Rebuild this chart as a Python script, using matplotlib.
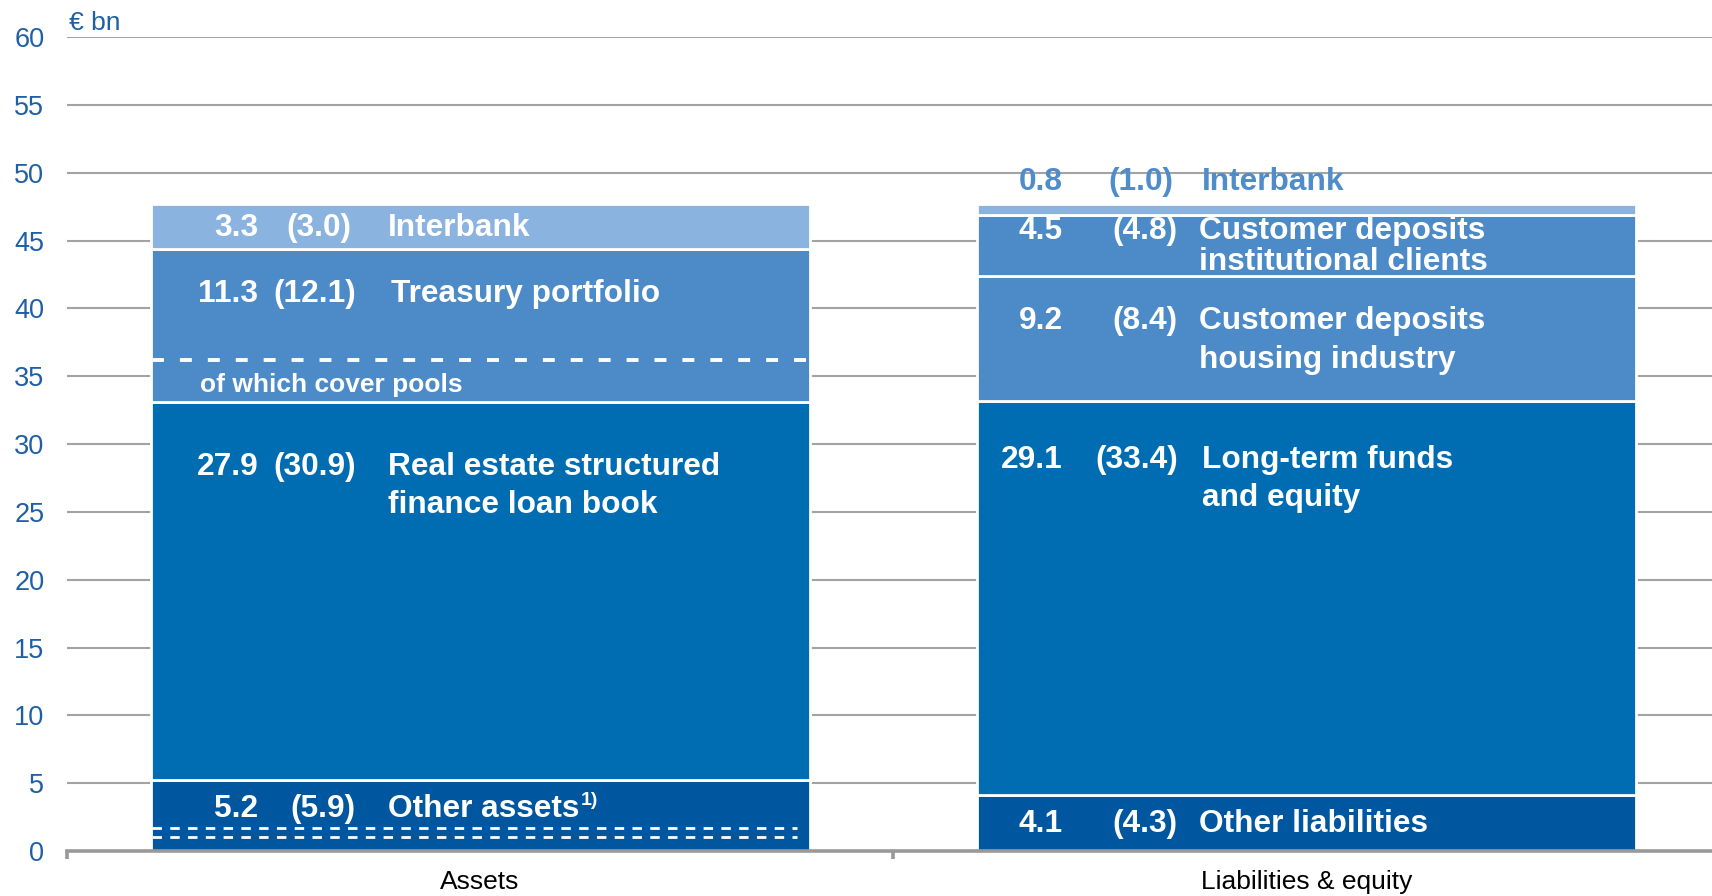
import matplotlib
matplotlib.use("Agg")
import matplotlib.pyplot as plt
import numpy as np

plt.rcParams['font.family'] = ['Liberation Sans', 'DejaVu Sans']
plt.rcParams['lines.scale_dashes'] = False

# ---------------- data ----------------
categories = ["Assets", "Liabilities & equity"]

asset_names = ["Other assets", "Real estate structured\nfinance loan book", "Treasury portfolio", "Interbank"]
asset_values = [5.2, 27.9, 11.3, 3.3]
asset_prev = [5.9, 30.9, 12.1, 3.0]

liab_names = ["Other liabilities", "Long-term funds\nand equity", "Customer deposits\nhousing industry",
              "Customer deposits\ninstitutional clients", "Interbank"]
liab_values = [4.1, 29.1, 9.2, 4.5, 0.8]
liab_prev = [4.3, 33.4, 8.4, 4.8, 1.0]

cover_pool_level = 36.2          # dashed line inside treasury portfolio
other_assets_marks = [1.72, 1.06]  # dashed lines inside other assets

yticks = list(range(0, 61, 5))
unit_label = "€ bn"

# ---------------- style ----------------
C_LIGHT = "#8AB3DF"
C_MID = "#4C8AC8"
C_MAIN = "#006DB3"
C_DARK = "#0057A0"
asset_colors = [C_DARK, C_MAIN, C_MID, C_LIGHT]
liab_colors = [C_DARK, C_MAIN, C_MID, C_MID, C_LIGHT]
TICK_BLUE = "#1E5FA6"
GRID = "#A3A3A3"
AXIS = "#999999"

fig = plt.figure(figsize=(17.12, 8.96), dpi=100)
ax = fig.add_axes([0.0389, 0.0502, 0.9611, 0.9084])

x = np.arange(len(categories))
width = 0.797

def stack(xpos, values, colors):
    bottom = 0.0
    for v, c in zip(values, colors):
        ax.bar(xpos, v, width=width, bottom=bottom, color=c, edgecolor="white",
               linewidth=2.0, zorder=2)
        bottom += v

stack(x[0], asset_values, asset_colors)
stack(x[1], liab_values, liab_colors)

# dashed lines
l0 = x[0] - width / 2
r0 = x[0] + width / 2
ax.hlines(cover_pool_level, l0 + 0.002, r0 - 0.002, colors="white", linewidth=2.8,
          linestyles=(0, (8.6, 11.5)), zorder=3)
for yv in other_assets_marks:
    ax.hlines(yv, l0 + 0.002, r0 - 0.015, colors="white", linewidth=2.0,
              linestyles=(0, (6.8, 6.0)), zorder=3)

# axes styling
ax.set_xlim(-0.5, 1.49)
ax.set_ylim(0, 60)
ax.set_yticks(yticks)
ax.set_yticklabels([str(t) for t in yticks])
ax.tick_params(axis="y", length=0, pad=16, labelsize=19.5, labelcolor=TICK_BLUE)
ax.grid(axis="y", color=GRID, linewidth=1.5, zorder=0)
ax.set_axisbelow(True)
for g in ax.get_ygridlines()[:1]:
    g.set_visible(False)
for s in ["left", "right", "top"]:
    ax.spines[s].set_visible(False)
ax.spines["bottom"].set_color(AXIS)
ax.spines["bottom"].set_linewidth(2.6)
ax.spines["bottom"].set_zorder(4)
ax.set_xticks(x)
ax.set_xticklabels(categories)
ax.tick_params(axis="x", which="major", length=0, pad=14, labelsize=19, labelcolor="black")
ax.set_xticks([-0.5, 0.5], minor=True)
ax.tick_params(axis="x", which="minor", length=6, width=2.6, color=AXIS, direction="out")

ax.text(-0.497, 61.05, unit_label, fontsize=19, color=TICK_BLUE, ha="left", va="center",
        clip_on=False)

# ---------------- labels ----------------
FS = 22.8
bold = dict(fontsize=FS, fontweight="bold", va="center_baseline", zorder=5)

def row(xc, y, val, prev, name, dx_val, dx_prev, dx_name, color="white", name2=None, y2=None):
    ax.text(xc + dx_val, y, f"{val:.1f}", ha="right", color=color, **bold)
    ax.text(xc + dx_prev, y, f"({prev:.1f})", ha="right", color=color, **bold)
    t = ax.text(xc + dx_name, y, name, ha="left", color=color, **bold)
    if name2 is not None:
        ax.text(xc + dx_name, y2, name2, ha="left", color=color, **bold)
    return t

# assets
ax_val, ax_prev, ax_name = -0.268, -0.150, -0.111
names_a = [n.split("\n") for n in asset_names]
t_other = row(x[0], 3.35, asset_values[0], asset_prev[0], names_a[0][0], ax_val, ax_prev, ax_name)
ax.annotate("1)", xy=(1, 1), xycoords=t_other, xytext=(0.5, 1.5), textcoords="offset points",
            fontsize=14, fontweight="bold", color="white", ha="left", va="top", zorder=5)
row(x[0], 28.6, asset_values[1], asset_prev[1], names_a[1][0], ax_val, ax_prev, ax_name,
    name2=names_a[1][1], y2=25.75)
row(x[0], 41.3, asset_values[2], asset_prev[2], names_a[2][0], ax_val, ax_prev, ax_name + 0.003)
row(x[0], 46.2, asset_values[3], asset_prev[3], names_a[3][0], ax_val, ax_prev - 0.006, ax_name)
ax.text(x[0] - 0.339, 34.55, "of which cover pools", ha="left", color="white",
        fontsize=19, fontweight="bold", va="center_baseline", zorder=5)

# liabilities
lv, lp, ln = -0.295, -0.156, -0.130
names_l = [n.split("\n") for n in liab_names]
row(x[1], 2.25, liab_values[0], liab_prev[0], names_l[0][0], lv, lp, ln)
row(x[1], 29.1, liab_values[1], liab_prev[1], names_l[1][0], lv, lp, ln + 0.003,
    name2=names_l[1][1], y2=26.25)
row(x[1], 39.3, liab_values[2], liab_prev[2], names_l[2][0], lv, lp, ln,
    name2=names_l[2][1], y2=36.45)
row(x[1], 45.95, liab_values[3], liab_prev[3], names_l[3][0], lv, lp, ln,
    name2=names_l[3][1], y2=43.65)
row(x[1], 49.6, liab_values[4], liab_prev[4], names_l[4][0], lv, lp - 0.005, ln + 0.003,
    color="#4F8CCA")

fig.savefig("out.png", dpi=100)
